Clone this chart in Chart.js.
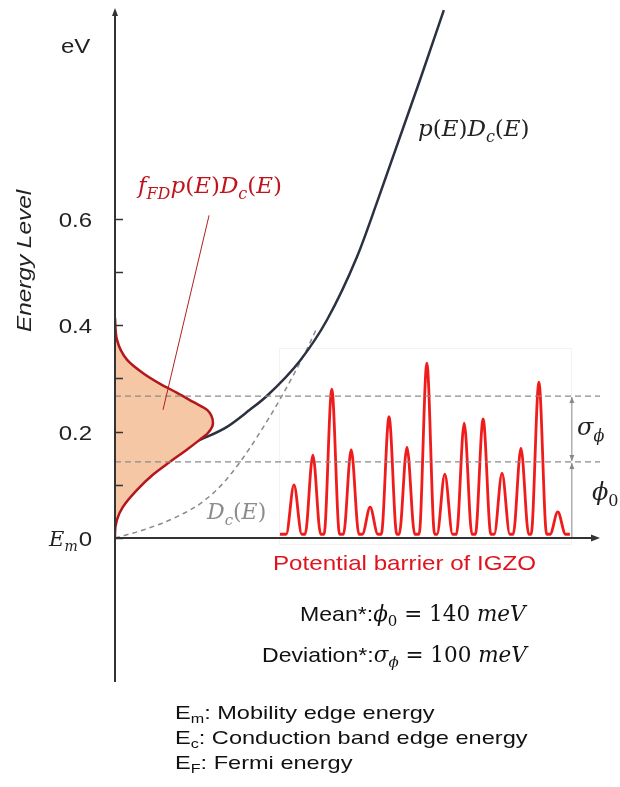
<!DOCTYPE html>
<html>
<head>
<meta charset="utf-8">
<script src="https://cdn.jsdelivr.net/npm/chart.js@4/dist/chart.umd.min.js"></script>
<style>
  body { margin: 0; background: #fff; }
  #wrap { width: 620px; height: 787px; position: relative; }
</style>
</head>
<body>
<div id="wrap"><canvas id="grafico"></canvas></div>
<script>
/* energy axis (eV) */
const yTicks = [0, 0.1, 0.2, 0.3, 0.4, 0.5, 0.6];
const yLabels = ['0', '', '0.2', '', '0.4', '', '0.6'];

/* f_FD p(E) Dc(E) : density (arb.) vs energy */
const fermiX = [0, 0, 0.4, 1.6, 4.5, 7.8, 11.3, 14.8, 17.5, 19.2, 20.2, 19.0, 16.1, 12.8, 9.3, 5.8, 2.5, 0.4, 0];
const fermiE = [0, 0.009, 0.034, 0.058, 0.090, 0.119, 0.143, 0.166, 0.185, 0.198, 0.216, 0.241, 0.256, 0.273, 0.290, 0.310, 0.335, 0.373, 0.414];

/* p(E) Dc(E) */
const pdcX = [17.0, 23.1, 27.8, 31.3, 38.1, 43.7, 49.9, 54.2, 62.9, 67.8];
const pdcE = [0.182, 0.209, 0.241, 0.267, 0.333, 0.410, 0.529, 0.636, 0.862, 0.993];

/* Dc(E) */
const dcX = [0, 5.8, 12.8, 18.1, 22.3, 25.8, 29.3, 34.4, 40.2, 41.4];
const dcE = [0, 0.015, 0.040, 0.068, 0.103, 0.143, 0.190, 0.267, 0.367, 0.391];

/* potential barriers of IGZO */
const peakX = [36.9, 40.8, 44.7, 48.7, 52.6, 56.5, 60.2, 64.3, 68.0, 72.0, 75.9, 79.8, 83.7, 87.4, 91.3];
const peakH = [0.100, 0.156, 0.280, 0.166, 0.058, 0.228, 0.171, 0.329, 0.120, 0.216, 0.224, 0.122, 0.169, 0.293, 0.049];
const barrierBase = 0.007;
const barrierFrom = 34.0;
const barrierTo = 93.8;

/* mean and mean + deviation */
const phi0 = 0.143;
const phiTop = 0.267;
const arrowX = 94.2;

const pts = (xs, ys) => xs.map((x, i) => ({x: x, y: ys[i]}));

const peakPts = [{x: barrierFrom, y: barrierBase}];
peakX.forEach((x, i) => {
    peakPts.push({x: x - 1.6, y: barrierBase}, {x: x, y: peakH[i]}, {x: x + 1.6, y: barrierBase});
});
peakPts.push({x: barrierTo, y: barrierBase});

const SERIF = '"DejaVu Serif", serif';
const SANS = '"Liberation Sans", Arial, sans-serif';
const it = (t, s) => ({t: t, f: 'italic ' + s + 'px ' + SERIF});
const up = (t, s) => ({t: t, f: s + 'px ' + SERIF});
const sub = (t, s, ital) => ({t: t, f: (ital === false ? '' : 'italic ') + Math.round(s * 0.68) + 'px ' + SERIF, dy: s * 0.25});
const sans = (t, s) => ({t: t, f: s + 'px ' + SANS});
const ssub = (t, s) => ({t: t, f: Math.round(s * 0.68) + 'px ' + SANS, dy: s * 0.22});

// draws text pieces left to right, returns width
function rich(ctx, x, y, segs, color, sx) {
    sx = sx || 1;
    ctx.save();
    ctx.translate(x, y);
    ctx.scale(sx, 1);
    ctx.fillStyle = color;
    ctx.textBaseline = 'alphabetic';
    ctx.textAlign = 'left';
    let cx = 0;
    segs.forEach(s => {
        ctx.font = s.f;
        ctx.fillText(s.t, cx, s.dy || 0);
        cx += ctx.measureText(s.t).width;
    });
    ctx.restore();
    return cx * sx;
}

function arrowHead(ctx, x, y, dir, len, half) {
    ctx.beginPath();
    if (dir === 'right') {
        ctx.moveTo(x, y); ctx.lineTo(x - len, y - half); ctx.lineTo(x - len, y + half);
    } else if (dir === 'up') {
        ctx.moveTo(x, y); ctx.lineTo(x - half, y + len); ctx.lineTo(x + half, y + len);
    } else {
        ctx.moveTo(x, y); ctx.lineTo(x - half, y - len); ctx.lineTo(x + half, y - len);
    }
    ctx.closePath();
    ctx.fill();
}

// faint frame of the pasted barrier plot
const frame = {
    id: 'frame',
    beforeDatasetsDraw(chart) {
        const ctx = chart.ctx;
        const xs = chart.scales.x, ys = chart.scales.y;
        const l = xs.getPixelForValue(barrierFrom) - 1, r = xs.getPixelForValue(barrierTo) + 1;
        const t = ys.getPixelForValue(0.357), b = ys.getPixelForValue(0) + 6;
        ctx.save();
        ctx.strokeStyle = '#f3f3f3';
        ctx.lineWidth = 1;
        ctx.strokeRect(Math.round(l) + 0.5, Math.round(t) + 0.5, Math.round(r - l), Math.round(b - t));
        ctx.restore();
    }
};

const decor = {
    id: 'decor',
    afterDatasetsDraw(chart) {
        const ctx = chart.ctx;
        const xs = chart.scales.x, ys = chart.scales.y;
        const a = chart.chartArea;
        const x0 = xs.getPixelForValue(0);
        const y0 = ys.getPixelForValue(0);

        ctx.save();
        // axes
        ctx.strokeStyle = '#333';
        ctx.fillStyle = '#333';
        ctx.lineWidth = 2;
        ctx.beginPath();
        ctx.moveTo(x0, a.bottom); ctx.lineTo(x0, a.top + 6);
        ctx.moveTo(x0 - 1, y0); ctx.lineTo(a.right - 6, y0);
        ctx.stroke();
        arrowHead(ctx, x0, a.top, 'up', 8, 3);
        arrowHead(ctx, a.right, y0, 'right', 9, 3.5);

        // ticks
        ctx.lineWidth = 1.5;
        yTicks.forEach(v => {
            const py = Math.round(ys.getPixelForValue(v)) + 0.5;
            ctx.beginPath(); ctx.moveTo(x0, py); ctx.lineTo(x0 + 8, py); ctx.stroke();
        });
        ctx.restore();

        const tickSx = 1.2;
        yTicks.forEach((v, i) => {
            if (!yLabels[i]) return;
            ctx.save();
            ctx.translate(92, ys.getPixelForValue(v) + 8);
            ctx.scale(tickSx, 1);
            ctx.fillStyle = '#222';
            ctx.font = '20px ' + SANS;
            ctx.textAlign = 'right';
            ctx.textBaseline = 'alphabetic';
            ctx.fillText(yLabels[i], 0, 0);
            ctx.restore();
        });
        ctx.save();
        ctx.font = '20px ' + SANS;
        const w0 = ctx.measureText('0').width * tickSx;
        ctx.font = 'italic 21px ' + SERIF;
        const wE = ctx.measureText('E').width;
        ctx.font = 'italic 14px ' + SERIF;
        const wm = ctx.measureText('m').width;
        ctx.restore();
        rich(ctx, 92 - w0 - wE - wm - 1, y0 + 8, [it('E', 21), sub('m', 21)], '#222');

        // eV and axis title
        rich(ctx, 61, 53, [sans('eV', 20)], '#222', 1.2);
        ctx.save();
        ctx.translate(31, 261);
        ctx.rotate(-Math.PI / 2);
        ctx.scale(1.16, 1);
        ctx.font = 'italic 21px ' + SANS;
        ctx.fillStyle = '#222';
        ctx.textAlign = 'center';
        ctx.textBaseline = 'alphabetic';
        ctx.fillText('Energy Level', 0, 0);
        ctx.restore();

        // sigma / phi0 double arrows
        const ax = xs.getPixelForValue(arrowX);
        const yp = ys.getPixelForValue(phi0), yt = ys.getPixelForValue(phiTop);
        ctx.save();
        ctx.strokeStyle = '#888';
        ctx.fillStyle = '#888';
        ctx.lineWidth = 1;
        ctx.beginPath();
        ctx.moveTo(ax, yt + 1); ctx.lineTo(ax, yp - 1);
        ctx.moveTo(ax, yp + 1); ctx.lineTo(ax, y0 - 1);
        ctx.stroke();
        arrowHead(ctx, ax, yt + 1, 'up', 6, 2.5);
        arrowHead(ctx, ax, yp - 1, 'down', 6, 2.5);
        arrowHead(ctx, ax, yp + 1, 'up', 6, 2.5);
        ctx.restore();

        rich(ctx, 577, 435, [it('\u03C3', 24), sub('\u03D5', 24)], '#222');
        rich(ctx, 592, 500, [it('\u03D5', 24), sub('0', 24, false)], '#222');

        // curve labels
        rich(ctx, 138, 193, [it('f', 23), sub('FD', 23), it('p', 23), up('(', 23), it('E', 23), up(')', 23),
            it('D', 23), sub('c', 23), up('(', 23), it('E', 23), up(')', 23)], '#c0141c');
        rich(ctx, 418, 136, [it('p', 23), up('(', 23), it('E', 23), up(')', 23),
            it('D', 23), sub('c', 23), up('(', 23), it('E', 23), up(')', 23)], '#222');
        rich(ctx, 207, 519, [it('D', 22), sub('c', 22), up('(', 22), it('E', 22), up(')', 22)], '#8c8c8c');

        // texts below the axis
        rich(ctx, 273, 570, [sans('Potential barrier of IGZO', 21)], '#e0141e', 1.15);
        let w = rich(ctx, 300, 621, [sans('Mean*:', 21)], '#111', 1.1);
        rich(ctx, 300 + w, 621, [it('\u03D5', 21.5), sub('0', 21.5, false), up(' = 140 ', 21.5), it('meV', 21.5)], '#111');
        w = rich(ctx, 262, 662, [sans('Deviation*:', 21)], '#111', 1.1);
        rich(ctx, 262 + w, 662, [it('\u03C3', 21.5), sub('\u03D5', 21.5), up(' = 100 ', 21.5), it('meV', 21.5)], '#111');

        rich(ctx, 175, 719, [sans('E', 19), ssub('m', 19), sans(': Mobility edge energy', 19)], '#111', 1.24);
        rich(ctx, 175, 744, [sans('E', 19), ssub('c', 19), sans(': Conduction band edge energy', 19)], '#111', 1.24);
        rich(ctx, 175, 769, [sans('E', 19), ssub('F', 19), sans(': Fermi energy', 19)], '#111', 1.24);
    }
};

const grafico = document.getElementById('grafico');

const data = {
    datasets: [
        {
            label: 'phi0',
            data: [{x: 0, y: phi0}, {x: 100, y: phi0}],
            borderColor: '#8a8a8a', borderWidth: 1.3, borderDash: [6, 4],
            pointRadius: 0, order: -1
        },
        {
            label: 'phi0 + sigma',
            data: [{x: 0, y: phiTop}, {x: 100, y: phiTop}],
            borderColor: '#8a8a8a', borderWidth: 1.3, borderDash: [6, 4],
            pointRadius: 0, order: -1
        },
        {
            label: 'pointer',
            data: [{x: 19.4, y: 0.607}, {x: 9.9, y: 0.241}],
            borderColor: '#b02020', borderWidth: 1,
            pointRadius: 0, order: -2
        },
        {
            label: 'fFD p(E) Dc(E)',
            indexAxis: 'y',
            data: pts(fermiX, fermiE),
            borderColor: '#b3161b', borderWidth: 2.5,
            backgroundColor: '#f6c7a4', fill: 'origin',
            cubicInterpolationMode: 'monotone', pointRadius: 0, order: 0
        },
        {
            label: 'p(E) Dc(E)',
            data: pts(pdcX, pdcE),
            borderColor: '#2b3140', borderWidth: 2.5,
            cubicInterpolationMode: 'monotone', pointRadius: 0, order: 1
        },
        {
            label: 'Dc(E)',
            data: pts(dcX, dcE),
            borderColor: '#8a8a8a', borderWidth: 1.5, borderDash: [5, 4],
            cubicInterpolationMode: 'monotone', pointRadius: 0, order: 2
        },
        {
            label: 'barrier',
            data: peakPts,
            borderColor: '#f01c1c', borderWidth: 2.8,
            cubicInterpolationMode: 'monotone',
            pointRadius: 0, order: 1
        }
    ]
};

const config = {
    type: 'line',
    data: data,
    options: {
        responsive: true,
        maintainAspectRatio: false,
        animation: false,
        layout: { padding: { left: 115, right: 20, top: 8, bottom: 105 } },
        scales: {
            x: { type: 'linear', min: 0, max: 100, display: false },
            y: { type: 'linear', min: -0.271, max: 0.997, display: false }
        },
        plugins: {
            legend: { display: false },
            tooltip: { enabled: false }
        }
    },
    plugins: [frame, decor]
};

const grafico_1 = new Chart(grafico, config);
</script>
</body>
</html>
